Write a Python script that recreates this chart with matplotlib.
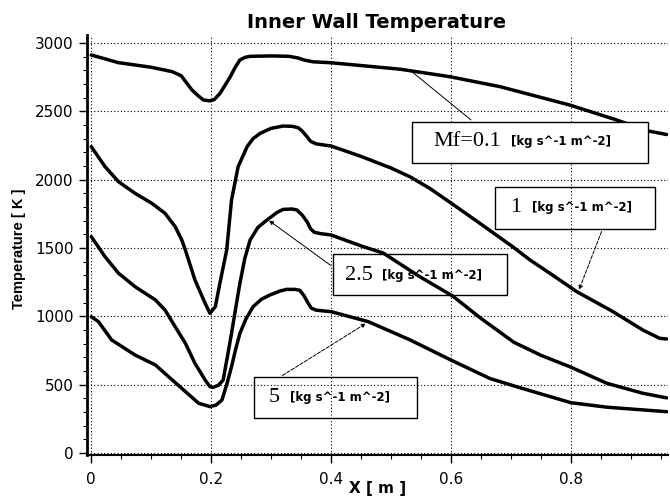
import matplotlib
matplotlib.use("Agg")
import matplotlib.pyplot as plt
from matplotlib.patches import Rectangle
from matplotlib.ticker import MultipleLocator

# wall temperature along X for four mass fluxes Mf [kg s^-1 m^-2]
x_01 = [0.0, 0.045, 0.1, 0.135, 0.15, 0.168, 0.178, 0.187, 0.198, 0.205, 0.215,
        0.232, 0.24, 0.248, 0.257, 0.265, 0.3, 0.33, 0.345, 0.355, 0.37, 0.4,
        0.515, 0.598, 0.682, 0.798, 0.876, 0.93, 0.96]
t_01 = [2912, 2856, 2822, 2790, 2760, 2656, 2615, 2583, 2576, 2585, 2632,
        2753, 2820, 2876, 2895, 2902, 2905, 2902, 2890, 2875, 2862, 2855,
        2808, 2753, 2680, 2546, 2437, 2355, 2330]

x_1 = [0.0, 0.023, 0.0455, 0.073, 0.101, 0.123, 0.14, 0.151, 0.157, 0.173,
       0.19, 0.198, 0.207, 0.215, 0.226, 0.234, 0.245, 0.26, 0.27, 0.282, 0.3,
       0.32, 0.335, 0.345, 0.352, 0.36, 0.366, 0.375, 0.39, 0.4, 0.45, 0.5,
       0.532, 0.565, 0.6, 0.65, 0.703, 0.732, 0.77, 0.81, 0.87,
       0.92, 0.948, 0.96]
t_1 = [2241, 2095, 1985, 1900, 1827, 1754, 1656, 1559, 1485, 1266,
       1095, 1022, 1070, 1250, 1485, 1850, 2094, 2241, 2300, 2339, 2375,
       2392, 2390, 2380, 2355, 2314, 2280, 2262, 2252, 2246, 2170, 2085,
       2020, 1935, 1829, 1675, 1509, 1412, 1300, 1180, 1035,
       900, 839, 834]

x_25 = [0.0, 0.023, 0.0455, 0.073, 0.107, 0.123, 0.14, 0.157, 0.173, 0.19,
        0.198, 0.203, 0.212, 0.22, 0.227, 0.234, 0.241, 0.248, 0.256, 0.265,
        0.278, 0.293, 0.31, 0.32, 0.335, 0.343, 0.352, 0.36, 0.366, 0.372,
        0.382, 0.4, 0.454, 0.487, 0.548, 0.603, 0.65, 0.705, 0.75, 0.8, 0.86,
        0.92, 0.96]
t_25 = [1583, 1436, 1315, 1217, 1120, 1046, 924, 803, 656, 534,
        485, 480, 495, 533, 700, 875, 1060, 1241, 1420, 1558,
        1650, 1704, 1760, 1782, 1785, 1778, 1740, 1692, 1640, 1615,
        1605, 1595, 1509, 1463, 1290, 1148, 985, 810, 715, 628, 510,
        437, 403]

x_5 = [0.0, 0.012, 0.034, 0.073, 0.107, 0.129, 0.151, 0.179, 0.198, 0.208,
       0.218, 0.226, 0.234, 0.241, 0.248, 0.258, 0.27, 0.284, 0.298, 0.315,
       0.326, 0.34, 0.348, 0.355, 0.36, 0.367, 0.375, 0.39, 0.4, 0.462, 0.532,
       0.6, 0.665, 0.71, 0.8, 0.86, 0.96]
t_5 = [997, 961, 827, 717, 644, 558, 473, 364, 339, 350,
       387, 500, 631, 760, 875, 980, 1070, 1125, 1156, 1185,
       1197, 1197, 1190, 1150, 1110, 1060, 1045, 1038, 1034, 961, 827,
       680, 545, 484, 368, 335, 302]

x_ticks = [0, 0.2, 0.4, 0.6, 0.8]
x_tick_labels = ["0", "0.2", "0.4", "0.6", "0.8"]
y_ticks = [0, 500, 1000, 1500, 2000, 2500, 3000]

unit = "[kg s^-1 m^-2]"

fig = plt.figure(figsize=(6.7, 4.98), dpi=100)
ax = fig.add_axes([0.1299, 0.0863, 0.867, 0.8434])

for xs, ts in [(x_01, t_01), (x_1, t_1), (x_25, t_25), (x_5, t_5)]:
    ax.plot(xs, ts, color="black", lw=2.5, solid_capstyle="round",
            solid_joinstyle="round", zorder=2)

ax.set_xlim(-0.007, 0.962)
ax.set_ylim(-15, 3058)
ax.set_xticks(x_ticks)
ax.set_xticklabels(x_tick_labels)
ax.set_yticks(y_ticks)
ax.xaxis.set_minor_locator(MultipleLocator(0.05))
ax.yaxis.set_minor_locator(MultipleLocator(100))
ax.tick_params(which="major", length=6, width=1, labelsize=11)
ax.tick_params(axis="x", which="major", pad=6)
ax.tick_params(which="minor", length=3, width=0.8)
ax.grid(True, which="major", color="black", lw=0.8, ls=(0, (1, 2)))
ax.spines["top"].set_visible(False)
ax.spines["right"].set_visible(False)
ax.spines["left"].set_linewidth(2)
ax.spines["bottom"].set_linewidth(1.5)

fig.text(377 / 670, 1 - 22 / 498, "Inner Wall Temperature", ha="center",
         va="center", fontsize=14, fontweight="bold")
fig.text(378 / 670, 1 - 488 / 498, "X [ m ]", ha="center", va="center",
         fontsize=11, fontweight="bold")
fig.text(19 / 670, 1 - 249 / 498, "Temperature [ K ]", ha="center",
         va="center", rotation=90, fontsize=10.5, fontweight="bold",
         family="Liberation Sans")

# label boxes: (rect x, rect y, w, h, number, number x, unit x, text y, zorder)
boxes = [
    (0.5345, 2122, 0.3935, 302, "Mf=0.1", 0.57, 0.701, 2276, 3),
    (0.673, 1639, 0.267, 307, "1", 0.698, 0.7345, 1793, 1.5),
    (0.404, 1156, 0.289, 300, "2.5", 0.423, 0.4845, 1302, 1.5),
    (0.2717, 254, 0.271, 304, "5", 0.2955, 0.3317, 406, 1.5),
]
for bx, by, bw, bh, num, nx, ux, ty, z in boxes:
    ax.add_patch(Rectangle((bx, by), bw, bh, facecolor="white",
                           edgecolor="black", lw=1, zorder=z))
    ax.text(nx, ty, num, family="Liberation Serif", fontsize=16,
            va="center", ha="left", zorder=z + 0.1)
    ax.text(ux, ty, unit, fontsize=8.5, fontweight="bold", va="center",
            ha="left", zorder=z + 0.1)

# connectors from boxes to curves
ax.annotate("", xy=(0.532, 2800), xytext=(0.637, 2424),
            arrowprops=dict(arrowstyle="-", lw=0.7, color="black"))
ax.annotate("", xy=(0.812, 1175), xytext=(0.853, 1639),
            arrowprops=dict(arrowstyle="-|>", lw=0.7, color="black",
                            mutation_scale=6, ls="--"))
ax.annotate("", xy=(0.293, 1712), xytext=(0.403, 1361),
            arrowprops=dict(arrowstyle="-|>", lw=0.7, color="black",
                            mutation_scale=6))
ax.annotate("", xy=(0.462, 958), xytext=(0.315, 556),
            arrowprops=dict(arrowstyle="-|>", lw=0.7, color="black",
                            mutation_scale=6, ls="--"))

fig.savefig("out.png", dpi=100)
